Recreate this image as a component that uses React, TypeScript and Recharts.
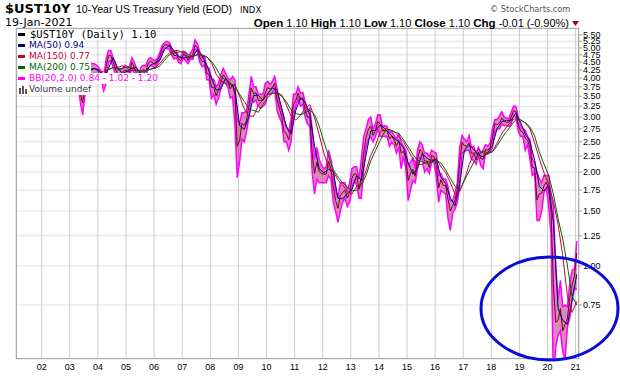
import React from 'react';
import { ComposedChart, Area, Line, XAxis, YAxis, CartesianGrid } from 'recharts';

// 10-year yield, monthly readings Jan 2001 .. Dec 2020, last entry = 19-Jan-2021
const closeYield = [
  5.16, 5.10, 4.89, 5.14, 5.39, 5.28, 5.24, 4.97, 4.73, 4.57, 4.65, 5.09, // 2001
  5.04, 4.91, 5.28, 5.21, 5.16, 4.93, 4.65, 4.26, 3.87, 3.94, 4.05, 4.03, // 2002
  4.05, 3.90, 3.81, 3.96, 3.57, 3.33, 3.98, 4.45, 4.27, 4.29, 4.30, 4.27, // 2003
  4.15, 4.08, 3.83, 4.35, 4.72, 4.73, 4.50, 4.28, 4.13, 4.10, 4.19, 4.23, // 2004
  4.22, 4.17, 4.50, 4.34, 4.14, 4.00, 4.18, 4.26, 4.20, 4.46, 4.54, 4.47, // 2005
  4.42, 4.57, 4.72, 4.99, 5.11, 5.11, 5.09, 4.88, 4.72, 4.73, 4.60, 4.56, // 2006
  4.76, 4.72, 4.56, 4.69, 4.75, 5.10, 5.00, 4.67, 4.52, 4.53, 4.15, 4.10, // 2007
  3.74, 3.74, 3.51, 3.68, 3.88, 4.10, 4.01, 3.89, 3.69, 3.81, 3.53, 2.42, // 2008
  2.52, 2.87, 2.82, 2.93, 3.29, 3.72, 3.56, 3.59, 3.40, 3.39, 3.40, 3.59, // 2009
  3.73, 3.69, 3.73, 3.85, 3.42, 3.20, 3.01, 2.70, 2.65, 2.54, 2.76, 3.29, // 2010
  3.39, 3.58, 3.41, 3.46, 3.17, 3.00, 3.00, 2.30, 1.98, 2.15, 2.01, 1.98, // 2011
  1.97, 1.97, 2.17, 2.05, 1.80, 1.62, 1.53, 1.68, 1.72, 1.75, 1.65, 1.72, // 2012
  1.91, 1.98, 1.96, 1.76, 1.93, 2.30, 2.58, 2.74, 2.81, 2.62, 2.72, 2.90, // 2013
  2.86, 2.71, 2.72, 2.71, 2.56, 2.60, 2.54, 2.42, 2.53, 2.30, 2.33, 2.21, // 2014
  1.88, 1.98, 2.04, 1.94, 2.20, 2.36, 2.32, 2.17, 2.17, 2.07, 2.26, 2.24, // 2015
  2.09, 1.78, 1.89, 1.81, 1.81, 1.64, 1.50, 1.56, 1.63, 1.76, 2.14, 2.49, // 2016
  2.43, 2.42, 2.48, 2.30, 2.30, 2.19, 2.32, 2.21, 2.20, 2.36, 2.35, 2.40, // 2017
  2.58, 2.86, 2.84, 2.87, 2.98, 2.91, 2.89, 2.89, 3.00, 3.15, 3.12, 2.83, // 2018
  2.71, 2.68, 2.57, 2.53, 2.40, 2.07, 2.06, 1.63, 1.70, 1.71, 1.81, 1.86, // 2019
  1.76, 1.50, 0.87, 0.66, 0.67, 0.73, 0.62, 0.65, 0.68, 0.79, 0.87, 0.93, // 2020
  1.10, // 2021
];

// Bollinger band (20,2) top and bottom, same months
const bbUpper = [
  5.40, 5.30, 5.10, 5.40, 5.55, 5.45, 5.40, 5.15, 4.95, 4.80, 4.95, 5.30,
  5.20, 5.10, 5.45, 5.40, 5.30, 5.10, 4.90, 4.50, 4.10, 4.20, 4.25, 4.25,
  4.20, 4.05, 4.00, 4.10, 3.85, 3.60, 4.40, 4.60, 4.50, 4.45, 4.45, 4.40,
  4.30, 4.20, 4.00, 4.60, 4.90, 4.90, 4.65, 4.45, 4.25, 4.25, 4.30, 4.40,
  4.35, 4.35, 4.65, 4.50, 4.28, 4.12, 4.35, 4.40, 4.38, 4.60, 4.65, 4.58,
  4.55, 4.65, 4.85, 5.10, 5.20, 5.25, 5.20, 5.00, 4.82, 4.85, 4.70, 4.68,
  4.88, 4.85, 4.65, 4.80, 4.95, 5.30, 5.15, 4.85, 4.65, 4.70, 4.35, 4.30,
  4.00, 3.95, 3.75, 3.85, 4.10, 4.30, 4.15, 4.00, 3.95, 4.05, 3.95, 2.95,
  2.85, 3.10, 3.10, 3.15, 3.55, 4.05, 3.75, 3.75, 3.55, 3.55, 3.55, 3.85,
  3.90, 3.82, 3.90, 4.05, 3.70, 3.35, 3.15, 2.95, 2.80, 2.70, 2.95, 3.55,
  3.55, 3.75, 3.58, 3.60, 3.35, 3.15, 3.20, 2.75, 2.20, 2.40, 2.20, 2.10,
  2.05, 2.08, 2.35, 2.20, 2.00, 1.75, 1.65, 1.85, 1.85, 1.85, 1.75, 1.85,
  2.05, 2.08, 2.08, 1.90, 2.20, 2.60, 2.75, 2.95, 3.00, 2.75, 2.85, 3.05,
  3.05, 2.80, 2.82, 2.80, 2.68, 2.70, 2.62, 2.55, 2.65, 2.50, 2.42, 2.35,
  2.10, 2.15, 2.22, 2.05, 2.35, 2.50, 2.45, 2.30, 2.30, 2.25, 2.35, 2.32,
  2.30, 1.95, 1.98, 1.90, 1.90, 1.80, 1.62, 1.62, 1.72, 1.85, 2.40, 2.62,
  2.55, 2.50, 2.62, 2.40, 2.42, 2.28, 2.40, 2.30, 2.35, 2.45, 2.42, 2.48,
  2.75, 2.95, 2.95, 3.02, 3.12, 3.00, 2.98, 2.97, 3.12, 3.25, 3.25, 3.00,
  2.80, 2.75, 2.72, 2.60, 2.55, 2.20, 2.15, 2.00, 1.90, 1.85, 1.95, 1.95,
  1.95, 1.70, 1.55, 1.00, 0.78, 0.90, 0.74, 0.75, 0.74, 0.88, 0.97, 0.98,
  1.20,
];

const bbLower = [
  4.90, 4.85, 4.70, 4.85, 5.20, 5.10, 5.05, 4.80, 4.50, 4.30, 4.35, 4.85,
  4.85, 4.75, 4.95, 5.00, 5.00, 4.75, 4.40, 4.05, 3.60, 3.65, 3.85, 3.85,
  3.90, 3.75, 3.60, 3.80, 3.35, 3.05, 3.55, 4.25, 4.00, 4.10, 4.15, 4.10,
  4.00, 3.95, 3.65, 3.85, 4.50, 4.55, 4.35, 4.10, 3.98, 3.95, 4.05, 4.10,
  4.10, 4.02, 4.30, 4.15, 4.00, 3.88, 4.05, 4.10, 4.05, 4.30, 4.40, 4.35,
  4.32, 4.45, 4.60, 4.85, 5.00, 4.98, 4.95, 4.75, 4.60, 4.65, 4.50, 4.45,
  4.65, 4.55, 4.45, 4.60, 4.60, 4.95, 4.85, 4.50, 4.35, 4.40, 3.95, 3.95,
  3.45, 3.55, 3.30, 3.45, 3.70, 3.90, 3.85, 3.75, 3.45, 3.50, 2.85, 1.92,
  2.15, 2.55, 2.50, 2.70, 3.00, 3.45, 3.35, 3.40, 3.25, 3.20, 3.25, 3.30,
  3.55, 3.55, 3.60, 3.70, 3.15, 3.00, 2.88, 2.50, 2.50, 2.35, 2.50, 3.00,
  3.25, 3.45, 3.25, 3.30, 3.00, 2.85, 2.80, 2.00, 1.70, 1.90, 1.85, 1.85,
  1.85, 1.85, 1.95, 1.90, 1.60, 1.50, 1.38, 1.50, 1.60, 1.65, 1.55, 1.60,
  1.78, 1.88, 1.82, 1.65, 1.65, 2.05, 2.40, 2.55, 2.60, 2.50, 2.60, 2.75,
  2.60, 2.60, 2.60, 2.60, 2.42, 2.48, 2.45, 2.30, 2.40, 2.05, 2.25, 2.05,
  1.62, 1.75, 1.88, 1.85, 2.05, 2.22, 2.20, 2.00, 2.05, 1.98, 2.15, 2.15,
  1.92, 1.60, 1.75, 1.72, 1.70, 1.42, 1.30, 1.48, 1.52, 1.60, 1.80, 2.30,
  2.32, 2.35, 2.35, 2.20, 2.18, 2.12, 2.25, 2.10, 2.05, 2.30, 2.30, 2.32,
  2.40, 2.70, 2.75, 2.75, 2.85, 2.82, 2.82, 2.80, 2.85, 3.05, 3.00, 2.70,
  2.60, 2.60, 2.35, 2.45, 2.20, 1.95, 1.98, 1.40, 1.40, 1.50, 1.72, 1.78,
  1.55, 1.25, 0.42, 0.55, 0.60, 0.62, 0.53, 0.50, 0.64, 0.68, 0.78, 0.85,
  0.84,
];

// moving averages read every other month (Jan, Mar, May, Jul, Sep, Nov), last = 19-Jan-2021
const ma50 = [
  5.37, 5.05, 5.14, 5.30, 4.98, 4.65,
  4.93, 5.08, 5.22, 4.91, 4.26, 3.95,
  4.04, 3.92, 3.78, 3.63, 4.23, 4.29,
  4.24, 4.02, 4.30, 4.65, 4.30, 4.14,
  4.21, 4.30, 4.33, 4.11, 4.21, 4.40,
  4.48, 4.57, 4.94, 5.10, 4.90, 4.68,
  4.64, 4.68, 4.67, 4.95, 4.73, 4.40,
  4.00, 3.66, 3.69, 4.00, 3.86, 3.68,
  2.82, 2.74, 3.01, 3.52, 3.52, 3.40,
  3.57, 3.72, 3.67, 3.21, 2.79, 2.65,
  3.15, 3.46, 3.35, 3.06, 2.43, 2.05,
  1.99, 2.04, 2.01, 1.65, 1.64, 1.71,
  1.76, 1.95, 1.88, 2.27, 2.71, 2.72,
  2.83, 2.76, 2.66, 2.57, 2.50, 2.39,
  2.14, 1.97, 2.06, 2.29, 2.22, 2.17,
  2.20, 1.92, 1.84, 1.65, 1.56, 1.84,
  2.35, 2.44, 2.36, 2.27, 2.24, 2.30,
  2.44, 2.76, 2.90, 2.93, 2.93, 3.09,
  2.89, 2.65, 2.50, 2.18, 1.80, 1.74,
  1.81, 1.38, 0.73, 0.67, 0.65, 0.78,
  0.94,
];

const ma150 = [
  5.71, 5.44, 5.30, 5.18, 5.09, 5.00,
  4.95, 4.91, 4.99, 5.03, 4.78, 4.51,
  4.22, 3.99, 3.91, 3.83, 3.91, 4.02,
  4.13, 4.21, 4.25, 4.33, 4.33, 4.38,
  4.30, 4.23, 4.24, 4.22, 4.22, 4.27,
  4.32, 4.46, 4.66, 4.81, 4.90, 4.90,
  4.81, 4.69, 4.67, 4.77, 4.75, 4.68,
  4.48, 4.12, 3.92, 3.85, 3.81, 3.82,
  3.50, 3.19, 3.02, 3.02, 3.27, 3.41,
  3.55, 3.57, 3.60, 3.53, 3.28, 3.02,
  2.94, 3.04, 3.20, 3.29, 2.99, 2.63,
  2.30, 2.07, 2.01, 1.89, 1.82, 1.73,
  1.70, 1.80, 1.83, 2.02, 2.26, 2.43,
  2.69, 2.76, 2.73, 2.70, 2.60, 2.50,
  2.35, 2.21, 2.11, 2.12, 2.15, 2.19,
  2.21, 2.08, 1.99, 1.85, 1.70, 1.73,
  1.89, 2.11, 2.29, 2.37, 2.30, 2.28,
  2.33, 2.48, 2.66, 2.79, 2.91, 2.98,
  2.94, 2.87, 2.75, 2.48, 2.21, 1.99,
  1.83, 1.61, 1.36, 1.08, 0.80, 0.71,
  0.77,
];

const ma200 = [
  5.81, 5.56, 5.40, 5.29, 5.11, 5.00,
  5.01, 4.98, 4.96, 4.95, 4.84, 4.63,
  4.42, 4.15, 3.94, 3.86, 3.94, 3.99,
  4.06, 4.10, 4.27, 4.32, 4.30, 4.29,
  4.35, 4.31, 4.23, 4.21, 4.22, 4.28,
  4.30, 4.38, 4.57, 4.75, 4.81, 4.85,
  4.86, 4.77, 4.70, 4.75, 4.73, 4.67,
  4.53, 4.31, 4.05, 3.94, 3.83, 3.78,
  3.55, 3.37, 3.18, 3.15, 3.11, 3.30,
  3.46, 3.58, 3.58, 3.50, 3.36, 3.16,
  3.08, 3.05, 3.10, 3.16, 3.06, 2.81,
  2.50, 2.25, 2.04, 1.93, 1.85, 1.79,
  1.74, 1.75, 1.81, 1.95, 2.17, 2.34,
  2.52, 2.70, 2.74, 2.69, 2.66, 2.54,
  2.41, 2.28, 2.18, 2.16, 2.13, 2.15,
  2.18, 2.14, 2.03, 1.91, 1.80, 1.75,
  1.88, 2.01, 2.15, 2.28, 2.33, 2.31,
  2.32, 2.43, 2.57, 2.70, 2.82, 2.95,
  2.94, 2.88, 2.79, 2.61, 2.32, 2.12,
  1.95, 1.70, 1.42, 1.22, 1.00, 0.80,
  0.75,
];

const yearTicks = [2002, 2003, 2004, 2005, 2006, 2007, 2008, 2009, 2010, 2011, 2012,
  2013, 2014, 2015, 2016, 2017, 2018, 2019, 2020, 2021];
const yieldTicks = [0.75, 1.0, 1.25, 1.5, 1.75, 2.0, 2.25, 2.5, 2.75, 3.0, 3.25, 3.5,
  3.75, 4.0, 4.25, 4.5, 4.75, 5.0, 5.25, 5.5];

const legendRows = [
  { label: '$UST10Y (Daily) 1.10', color: '#000000', mono: true },
  { label: 'MA(50) 0.94', color: '#000080' },
  { label: 'MA(150) 0.77', color: '#cc0033' },
  { label: 'MA(200) 0.75', color: '#006600' },
  { label: 'BB(20,2.0) 0.84 - 1.02 - 1.20', color: '#ff00ff' },
];

const rows = closeYield.map((c, i) => ({
  t: 2001 + (i + 0.5) / 12,
  close: c,
  upper: bbUpper[i],
  lower: bbLower[i],
  band: [bbLower[i], bbUpper[i]],
  ma50: i % 2 === 0 ? ma50[i / 2] : null,
  ma150: i % 2 === 0 ? ma150[i / 2] : null,
  ma200: i % 2 === 0 ? ma200[i / 2] : null,
}));

const sans = '"Liberation Sans", Arial, sans-serif';
const verd = '"DejaVu Sans", Verdana, sans-serif';

function ChartLegend() {
  return (
    <div style={{ position: 'absolute', left: 17, top: 29, pointerEvents: 'none' }}>
      {legendRows.map((r) => (
        <div key={r.label} style={{ display: 'flex', alignItems: 'center', height: 11, width: 'fit-content', background: '#fff', paddingRight: 1 }}>
          <span style={{ display: 'inline-block', width: 7, height: 3, background: r.color, marginLeft: 1, marginRight: r.mono ? 5 : 4 }} />
          <span style={{ fontFamily: r.mono ? '"DejaVu Sans Mono", monospace' : verd, fontSize: r.mono ? 10.5 : 9, lineHeight: '11px', color: r.color, whiteSpace: 'nowrap' }}>
            {r.label}
          </span>
        </div>
      ))}
      <div style={{ display: 'flex', alignItems: 'center', height: 11, width: 'fit-content', background: '#fff', paddingRight: 1 }}>
        <svg width={10} height={9} style={{ marginLeft: 1, marginRight: 1 }}>
          <rect x={1} y={3} width={2} height={6} fill="#555" />
          <rect x={4} y={1} width={2} height={8} fill="#555" />
          <rect x={7} y={4} width={2} height={5} fill="#555" />
        </svg>
        <span style={{ fontFamily: verd, fontSize: 9, lineHeight: '11px', color: '#333', whiteSpace: 'nowrap' }}>Volume undef</span>
      </div>
    </div>
  );
}

export default function App() {
  return (
    <div style={{ position: 'absolute', left: 0, top: 0, width: 620, height: 376, background: '#fff', overflow: 'hidden' }}>
      <ComposedChart width={620} height={376} data={rows} margin={{ top: 28, right: 0, bottom: 0, left: 16 }}>
        <CartesianGrid vertical={false} stroke="#e0e0e0" />
        <CartesianGrid horizontal={false} stroke="#cccccc" />
        <XAxis
          type="number"
          dataKey="t"
          domain={[2001.086, 2021.12]}
          allowDataOverflow
          ticks={yearTicks}
          interval={0}
          tickFormatter={(v) => String(v).slice(2)}
          tickLine={false}
          tickSize={0}
          axisLine={false}
          tickMargin={5}
          height={17}
          tick={{ fontSize: 9, fill: '#000', fontFamily: sans }}
        />
        <YAxis
          orientation="right"
          type="number"
          scale="log"
          domain={[0.5035, 5.79]}
          allowDataOverflow
          ticks={yieldTicks}
          interval={0}
          tickFormatter={(v) => Number(v).toFixed(2)}
          width={41}
          tickSize={3}
          tickMargin={1}
          axisLine={false}
          tickLine={{ stroke: '#999' }}
          tick={{ fontSize: 9, fill: '#000', fontFamily: sans }}
        />
        <Area dataKey="band" stroke="none" fill="#c02880" fillOpacity={0.55} isAnimationActive={false} />
        <Line dataKey="upper" stroke="#ff00ff" strokeWidth={1.5} dot={false} isAnimationActive={false} />
        <Line dataKey="lower" stroke="#ff00ff" strokeWidth={1.5} dot={false} isAnimationActive={false} />
        <Line dataKey="close" stroke="#700020" strokeWidth={1} dot={false} isAnimationActive={false} />
        <Line dataKey="ma50" stroke="#000080" strokeWidth={1} dot={false} connectNulls isAnimationActive={false} />
        <Line dataKey="ma150" stroke="#cc0033" strokeWidth={1} dot={false} connectNulls isAnimationActive={false} />
        <Line dataKey="ma200" stroke="#006600" strokeWidth={1} dot={false} connectNulls isAnimationActive={false} />
      </ComposedChart>
      <ChartLegend />
      <svg width={620} height={376} style={{ position: 'absolute', left: 0, top: 0, pointerEvents: 'none' }}>
        <rect x={16.5} y={28.5} width={562} height={330} fill="none" stroke="#aaaaaa" />
        <text x={5} y={13} fontFamily={verd} fontWeight="bold" fontSize={13}>$UST10Y</text>
        <text x={76} y={13} fontFamily={sans} fontSize={10.5}>10-Year US Treasury Yield (EOD)</text>
        <text x={240} y={13} fontFamily={verd} fontSize={8.5}>INDX</text>
        <text x={5} y={26} fontFamily={verd} fontSize={11}>19-Jan-2021</text>
        <text x={490} y={12} fontFamily={verd} fontSize={8.2} fill="#555">© StockCharts.com</text>
        <text x={569} y={26.5} textAnchor="end" fontFamily={sans} fontSize={11}>
          <tspan fontWeight="bold" fontSize={11.5}>Open</tspan> 1.10{' '}
          <tspan fontWeight="bold" fontSize={11.5}>High</tspan> 1.10{' '}
          <tspan fontWeight="bold" fontSize={11.5}>Low</tspan> 1.10{' '}
          <tspan fontWeight="bold" fontSize={11.5}>Close</tspan> 1.10{' '}
          <tspan fontWeight="bold" fontSize={11.5}>Chg</tspan> -0.01 (-0.90%)
        </text>
        <polygon points="572,21 579,21 575.5,26" fill="#a00030" />
        <ellipse cx={549.5} cy={308.5} rx={68.5} ry={51.5} fill="none" stroke="#0a0ad8" strokeWidth={3} />
      </svg>
    </div>
  );
}
